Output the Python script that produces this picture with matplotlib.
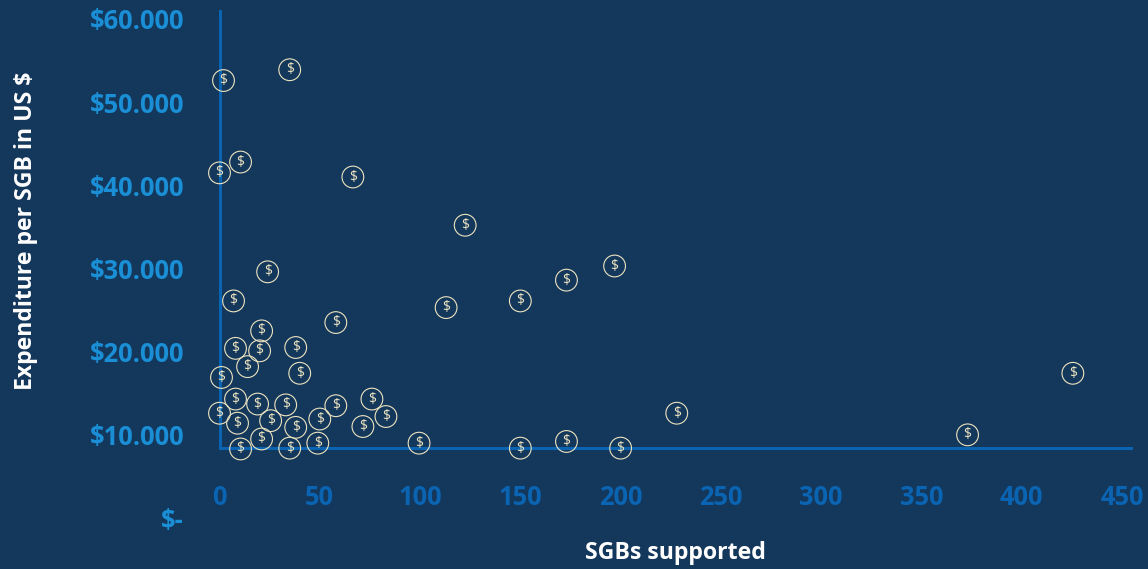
import matplotlib
matplotlib.use("Agg")
import matplotlib.pyplot as plt

# values
sgbs = [2, 35, 0, 10.5, 66.5, 122.5, 24, 197, 173, 150, 113, 7, 58, 21, 8, 20, 38, 14, 40, 1,
        425.5, 8, 19, 33, 76, 58, 83, 0, 228, 9, 25.5, 50, 71.5, 38, 21, 49, 10.5, 35, 99.5, 150,
        173, 200, 373]
spend = [52600, 53900, 41500, 42800, 41000, 35200, 29600, 30300, 28600, 26100, 25300, 26100, 23500, 22500,
         20400, 20100, 20500, 18200, 17400, 16900, 17400, 14300, 13700, 13600, 14300, 13500, 12200, 12600,
         12600, 11400, 11700, 11900, 11000, 10900, 9500, 9000, 8300, 8400, 9000, 8400, 9200, 8400, 10000]
x_ticks = [0, 50, 100, 150, 200, 250, 300, 350, 400, 450]
y_ticks = [0, 10000, 20000, 30000, 40000, 50000, 60000]
y_labels = ["$-", "$10.000", "$20.000", "$30.000", "$40.000", "$50.000", "$60.000"]

BG = "#14375c"
AXIS = "#0a64b2"
YTICK = "#1a8fd6"
CREAM = "#ece4c0"

plt.rcParams['font.family'] = ['Open Sans', 'DejaVu Sans']
W, H = 1148, 569
fig = plt.figure(figsize=(W / 100, H / 100), dpi=100, facecolor=BG)
# 0 and 450 sit at px 219.5 and 1122, 60000 at px 19 and 0 at px 518
ax = fig.add_axes([219.5 / W, 1 - 518 / H, (1122 - 219.5) / W, (518 - 19) / H], facecolor=BG)
ax.set_xlim(0, 450)
ax.set_ylim(0, 60000)

for s in ['top', 'right']:
    ax.spines[s].set_visible(False)
ax.spines['left'].set_color(AXIS)
ax.spines['left'].set_linewidth(2.2)
ax.spines['left'].set_bounds(8400, 61000)
ax.spines['bottom'].set_color(AXIS)
ax.spines['bottom'].set_linewidth(2.2)
ax.spines['bottom'].set_position(('data', 8400))
ax.spines['bottom'].set_bounds(0, 454.7)
for sp in ax.spines.values():
    sp.set_clip_on(False)

ax.set_xticks(x_ticks)
ax.set_yticks(y_ticks)
ax.set_yticklabels(y_labels)
ax.tick_params(axis='x', length=0, pad=26, labelsize=18.4, labelcolor=AXIS)
ax.tick_params(axis='y', length=0, pad=25.5, labelsize=18.4, labelcolor=YTICK)
for lab in ax.get_xticklabels() + ax.get_yticklabels():
    lab.set_fontweight('bold')

ax.scatter(sgbs, spend, s=245, facecolor='none', edgecolor=CREAM, linewidth=0.8, clip_on=False, zorder=3)
for xv, yv in zip(sgbs, spend):
    ax.text(xv, yv, "$", color=CREAM, fontsize=10, ha='center', va='center', zorder=4, clip_on=False)

fig.text(675 / W, 1 - 553 / H, "SGBs supported", color='white', fontsize=16.7, fontweight='bold',
         ha='center', va='center')
fig.text(26.5 / W, 1 - 231 / H, "Expenditure per SGB in US $", color='white', fontsize=16.6, fontweight='bold',
         ha='center', va='center', rotation=90)

fig.savefig("out.png", dpi=100, facecolor=BG)
